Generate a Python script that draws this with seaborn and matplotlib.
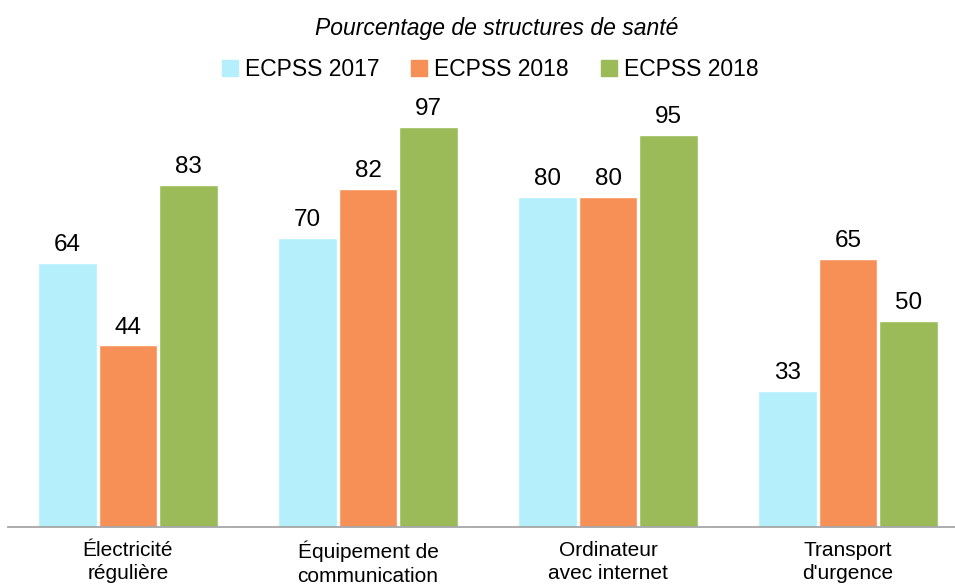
import pandas as pd
import matplotlib.pyplot as plt
import seaborn as sns

# Data
categories = ["Électricité\nrégulière", "Équipement de\ncommunication",
              "Ordinateur\navec internet", "Transport\nd'urgence"]
series = ["ECPSS 2017", "ECPSS 2018", "ECPSS 2018"]
values_2017 = [64, 70, 80, 33]
values_2018a = [44, 82, 80, 65]
values_2018b = [83, 97, 95, 50]
colors = ["#B4EFFB", "#F79056", "#9BBB59"]

rows = []
for k, vals in enumerate([values_2017, values_2018a, values_2018b]):
    for cat, v in zip(categories, vals):
        rows.append({"cat": cat, "serie": str(k), "val": v})
df = pd.DataFrame(rows)

sns.set_style("white")
plt.rcParams["font.family"] = ["Liberation Sans", "DejaVu Sans"]
plt.rcParams["text.color"] = "black"
plt.rcParams["xtick.color"] = "black"

fig = plt.figure(figsize=(9.55, 5.86), dpi=100)
ax = fig.add_axes([8 / 955, 59 / 586, 960 / 955, 427 / 586])

sns.barplot(data=df, x="cat", y="val", hue="serie", hue_order=["0", "1", "2"],
            palette=colors, width=0.76, gap=0.03, ax=ax, legend=False,
            saturation=1, errorbar=None)

for cont in ax.containers:
    ax.bar_label(cont, fmt="%d", padding=5, fontsize=17.5, color="black")

ax.set_ylim(0, 103.5)
ax.set_xlim(-0.5, 3.5)
ax.set_xlabel("")
ax.set_ylabel("")
ax.set_yticks([])
ax.tick_params(axis="x", length=0, labelsize=15, pad=10)
for lab in ax.get_xticklabels():
    lab.set_linespacing(1.3)
for s in ["top", "right", "left"]:
    ax.spines[s].set_visible(False)
ax.spines["bottom"].set_color("#A6A6A6")
ax.spines["bottom"].set_linewidth(1.3)

# legend
handles = [plt.Rectangle((0, 0), 1, 1, color=c) for c in colors]
fig.legend(handles, series, loc="center", bbox_to_anchor=(490 / 955, 1 - 70 / 586),
           ncol=3, frameon=False, fontsize=16.5, handlelength=0.7, handleheight=0.7,
           handletextpad=0.3, columnspacing=1.4)

fig.text(497 / 955, 1 - 28 / 586, "Pourcentage de structures de santé",
         ha="center", va="center", fontsize=16.5, style="italic")

fig.savefig("out.png", dpi=100)
